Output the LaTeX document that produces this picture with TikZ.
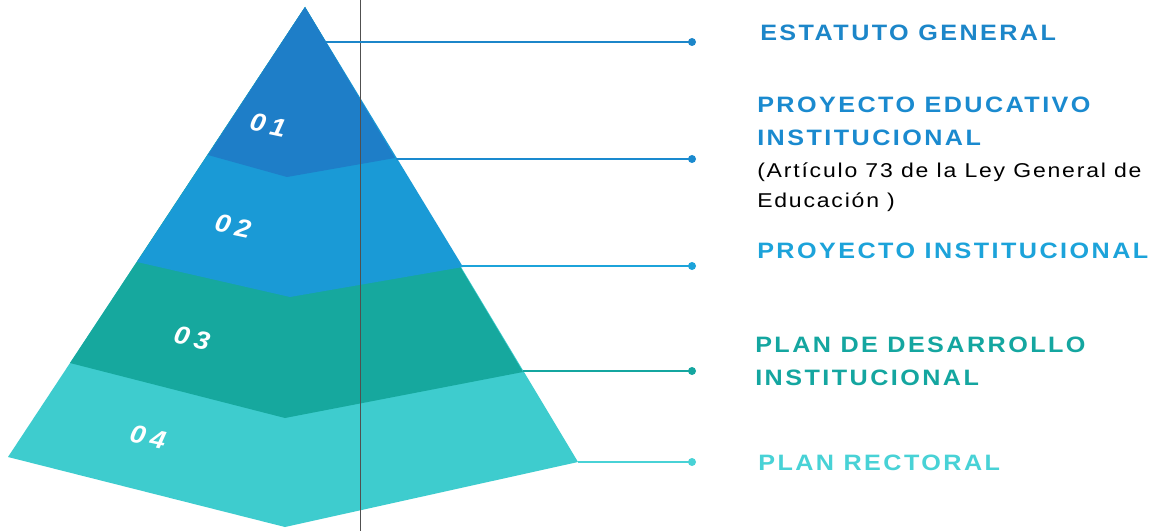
\documentclass[tikz,border=0pt]{standalone}
\usepackage{fontspec}
\setmainfont{Liberation Sans}
\usepackage{tikz}
\usetikzlibrary{positioning}

\definecolor{capa1}{RGB}{30,126,200}
\definecolor{capa2}{RGB}{26,154,214}
\definecolor{capa3}{RGB}{22,168,158}
\definecolor{capa4}{RGB}{62,204,206}
\definecolor{tx1}{RGB}{28,134,201}
\definecolor{tx2}{RGB}{26,138,207}
\definecolor{tx3}{RGB}{28,163,218}
\definecolor{tx4}{RGB}{20,166,160}
\definecolor{tx5}{RGB}{72,210,214}
\definecolor{guia}{RGB}{80,80,80}

\tikzset{
  titulo/.style={anchor=north west,inner sep=0pt,align=left,
    font=\fontsize{16.7}{24.75}\selectfont\bfseries\addfontfeature{FakeStretch=1.13,LetterSpace=11}},
  nota/.style={anchor=north west,inner sep=0pt,align=left,text=black,
    font=\fontsize{15}{22.5}\selectfont\addfontfeature{FakeStretch=1.15,LetterSpace=9}},
  numero/.style={text=white,inner sep=0pt,rotate=-12,
    font=\fontsize{19}{19}\selectfont\bfseries\itshape\addfontfeature{FakeStretch=1.1,LetterSpace=20}},
  punto/.style={circle,fill,inner sep=0pt,minimum size=6pt},
}

\begin{document}
\begin{tikzpicture}[x=0.75pt,y=-0.75pt]
\useasboundingbox (0,0) rectangle (1167,531);
\fill[white] (0,0) rectangle (1167,531);

% piramide: base completa y capas superpuestas desde abajo
\coordinate (cima) at (305,7);
\fill[capa4] (cima) -- (8,457) -- (285,527) -- (578,462) -- cycle;
\foreach \col/\izq/\med/\der in {capa3/{70,363}/{285,418}/{523,372},
    capa2/{137,262}/{290,297}/{463,267},
    capa1/{208,155}/{287,177}/{395,158}}
  \fill[\col] (cima) -- (\izq) -- (\med) -- (\der) -- cycle;

\node[numero] (n1) at (268,125) {01};
\node[numero] (n2) at (233,226) {02};
\node[numero] (n3) at (192,338) {03};
\node[numero] (n4) at (148,437) {04};

% linea vertical
\draw[guia,line width=0.6pt] (360,0) -- (360,531);

% guias hacia los rotulos
\foreach \i/\xb/\y/\col in {1/326/42/tx1, 2/396/159/tx2, 3/460/266/tx3,
    4/523/371/tx4, 5/578/462/tx5}{
  \coordinate (b\i) at (\xb,\y);
  \node[punto,\col] (d\i) at (692,\y) {};
  \draw[\col,line width=0.9pt] (b\i) -- (d\i.center);}

\node[titulo,text=tx1] (l1) at (760,25) {ESTATUTO GENERAL};
\node[titulo,text=tx2] (l2) at (757,97) {PROYECTO EDUCATIVO\\INSTITUCIONAL};
\node[nota,below=12pt of l2.south west,anchor=north west] (l2n)
  {(Artículo 73 de la Ley General de\\Educación )};
\node[titulo,text=tx3] (l3) at (757,243) {PROYECTO INSTITUCIONAL};
\node[titulo,text=tx4] (l4) at (755,337) {PLAN DE DESARROLLO\\INSTITUCIONAL};
\node[titulo,text=tx5] (l5) at (758,455) {PLAN RECTORAL};
\end{tikzpicture}
\end{document}
